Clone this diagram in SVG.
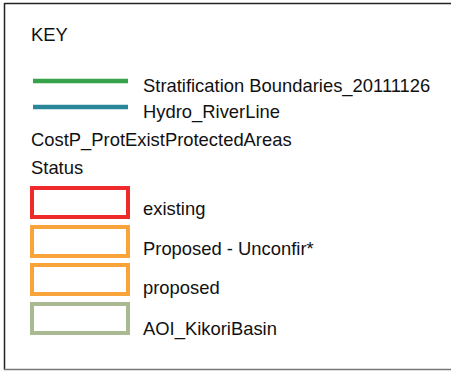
<svg xmlns="http://www.w3.org/2000/svg" width="451" height="372" viewBox="0 0 451 372">
<style>
text{font-family:"Liberation Sans",Arial,sans-serif;font-size:18.4px;fill:#111}
.sw{fill:#fff;stroke-width:4}
.ln{stroke-width:4.5}
</style>
<rect width="451" height="372" fill="#fff"/>
<g id="frame">
<line x1="4.5" y1="3.5" x2="451" y2="3.5" stroke="#222" stroke-width="1.5"/>
<line x1="4.5" y1="3" x2="4.5" y2="370" stroke="#222" stroke-width="1.5"/>
<line x1="4" y1="369.5" x2="451" y2="369.5" stroke="#777" stroke-width="1.5"/>
</g>
<g id="title"><text x="31" y="41">KEY</text></g>
<g id="strat">
<line class="ln" x1="33" y1="81" x2="128" y2="81" stroke="#36a34b"/>
<text x="143" y="91.5">Stratification Boundaries_20111126</text>
</g>
<g id="hydro">
<line class="ln" x1="33" y1="107" x2="128" y2="107" stroke="#2a8799"/>
<text x="143" y="118">Hydro_RiverLine</text>
</g>
<g id="layer"><text x="31" y="146">CostP_ProtExistProtectedAreas</text></g>
<g id="status"><text x="31" y="174">Status</text></g>
<g id="existing">
<rect class="sw" x="32" y="188" width="96" height="29" stroke="#ee2a2a"/>
<text x="143" y="215">existing</text>
</g>
<g id="unconfir">
<rect class="sw" x="32" y="227" width="96" height="29" stroke="#f9a43a"/>
<text x="143" y="255">Proposed - Unconfir*</text>
</g>
<g id="proposed">
<rect class="sw" x="32" y="265" width="96" height="29" stroke="#f9a43a"/>
<text x="143" y="294">proposed</text>
</g>
<g id="aoi">
<rect class="sw" x="32" y="304" width="96" height="29" stroke="#a9b992"/>
<text x="143" y="335">AOI_KikoriBasin</text>
</g>
</svg>
